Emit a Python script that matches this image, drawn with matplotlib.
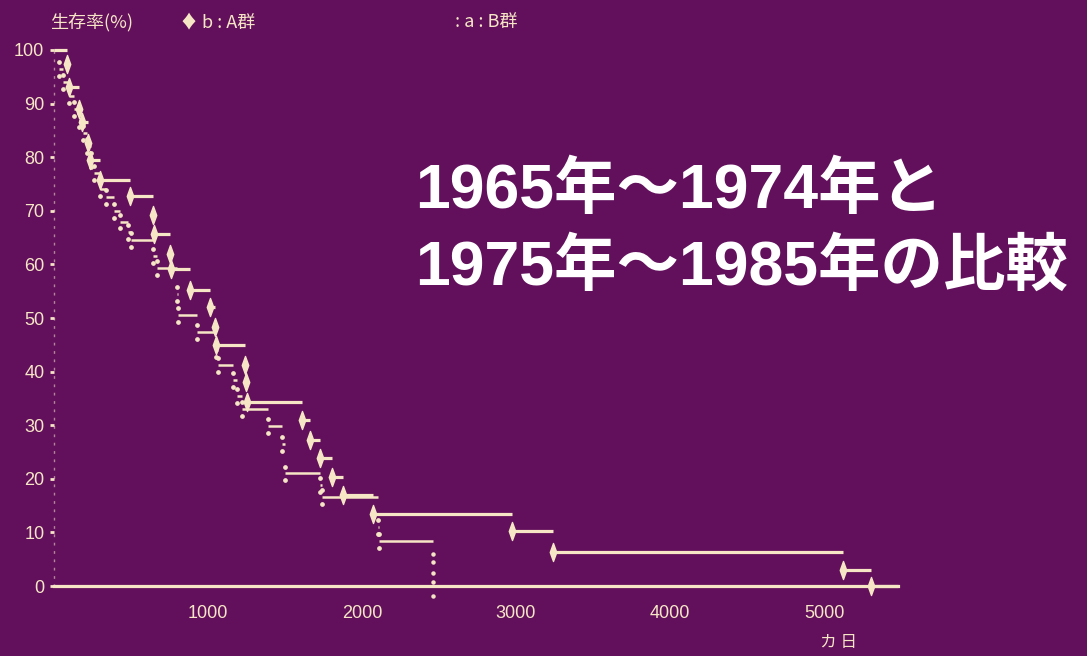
import matplotlib
matplotlib.use("Agg")
import matplotlib.pyplot as plt
from matplotlib.path import Path

BG = "#62105c"
INK = "#f6e6c6"

# A群 (b): day each step starts and survival (%) from that day on
a_days = [0, 85, 100, 160, 185, 220, 235, 300, 494, 643, 650, 753, 760, 883,
          1013, 1045, 1050, 1240, 1245, 1250, 1610, 1662, 1727, 1805, 1877,
          2071, 2974, 3240, 5123, 5305]
a_surv = [100, 97.4, 93, 89, 86.6, 82.6, 79.5, 75.7, 72.8, 69.2, 65.7, 62,
          59.2, 55.2, 52, 48.3, 45, 41.2, 38, 34.3, 31, 27.2, 23.9, 20.3, 17,
          13.4, 10.2, 6.4, 3, 0]
a_end = 5480

# B群 (a)
b_days = [0, 30, 60, 95, 130, 160, 190, 215, 240, 260, 300, 340, 390, 430,
          480, 500, 640, 670, 800, 805, 930, 1050, 1065, 1165, 1190, 1220,
          1390, 1480, 1500, 1730, 1740, 2104, 2110]
b_surv = [100, 96.5, 94, 91.5, 89, 87, 84.5, 82, 79.5, 77, 74, 72.5, 70, 68,
          66, 64.5, 61.5, 59.3, 54.5, 50.5, 47.4, 44, 41.2, 38.5, 35.5, 33,
          29.8, 26.5, 21, 18.8, 16.6, 11, 8.4]
b_end = 2460

y_ticks = [0, 10, 20, 30, 40, 50, 60, 70, 80, 90, 100]
x_ticks = [1000, 2000, 3000, 4000, 5000]

num_font = ["Liberation Sans", "DejaVu Sans"]
jp_font = ["Noto Sans CJK JP", "DejaVu Sans"]

# tall thin diamond for the A-group events
diamond = Path([(0, 1), (0.36, 0), (0, -1), (-0.36, 0), (0, 1)],
               [Path.MOVETO, Path.LINETO, Path.LINETO, Path.LINETO, Path.CLOSEPOLY])

fig = plt.figure(figsize=(10.87, 6.56), dpi=100, facecolor=BG)
ax = fig.add_axes([0.00718, 0.0576, 0.8359, 0.9316])
ax.set_facecolor(BG)
ax.set_xlim(-300, 5600)
ax.set_ylim(-6, 108)

# B group: horizontal steps with ":" marks at each step start
b_ends = b_days[1:] + [b_end]
ax.hlines(b_surv, b_days, b_ends, color=INK, lw=1.8)
ax.plot(b_days[1:], [s + 1.3 for s in b_surv[1:]], ls="none", marker="o",
        ms=2.4, color=INK)
ax.plot(b_days[1:], [s - 1.3 for s in b_surv[1:]], ls="none", marker="o",
        ms=2.4, color=INK)
ax.plot([b_end] * 5, [6.0, 4.5, 2.5, 0.8, -1.8], ls="none", marker="o",
        ms=2.2, color=INK)

# A group: horizontal steps with diamonds
a_ends = a_days[1:] + [a_end]
ax.hlines(a_surv, a_days, a_ends, color=INK, lw=2.3)
ax.plot(a_days[1:], a_surv[1:], ls="none", marker=diamond, ms=13,
        color=INK, mec=INK)

for side in ["top", "right"]:
    ax.spines[side].set_visible(False)
ax.spines["left"].set_position(("data", 0))
ax.spines["left"].set_bounds(0, 100)
ax.spines["left"].set_color(INK)
ax.spines["left"].set_alpha(0.55)
ax.spines["left"].set_linewidth(1.0)
ax.spines["left"].set_linestyle((0, (1, 5)))
ax.spines["bottom"].set_position(("data", 0))
ax.spines["bottom"].set_bounds(0, a_end)
ax.spines["bottom"].set_color(INK)
ax.spines["bottom"].set_linewidth(2.3)

ax.set_yticks(y_ticks)
ax.set_yticklabels([str(v) for v in y_ticks], family=num_font, fontsize=13,
                   color=INK)
ax.tick_params(axis="y", colors=INK, length=3, width=2, pad=4)
ax.set_xticks(x_ticks)
ax.set_xticklabels([str(v) for v in x_ticks], family=num_font, fontsize=13,
                   color=INK)
ax.tick_params(axis="x", length=0, pad=14, colors=INK)

fig.text(50 / 1087, 1 - 22 / 656, "生存率(%)", family=jp_font, fontsize=13,
         color=INK, va="center")
fig.text(180 / 1087, 1 - 22 / 656, "♦ b : A群", family=jp_font, fontsize=13,
         color=INK, va="center")
fig.text(455 / 1087, 1 - 22 / 656, ": a : B群", family=jp_font, fontsize=13,
         color=INK, va="center")
fig.text(838 / 1087, 1 - 643 / 656, "カ 日", family=jp_font, fontsize=12,
         color=INK, ha="center", va="center")

title_font = ["Liberation Sans", "Noto Sans CJK JP"]
fig.text(415 / 1087, 1 - 208 / 656, "1965年～1974年と", family=title_font,
         fontsize=45, fontweight="bold", color="white", va="baseline")
fig.text(415 / 1087, 1 - 285 / 656, "1975年～1985年の比較", family=title_font,
         fontsize=45, fontweight="bold", color="white", va="baseline")

fig.savefig("out.png", dpi=100, facecolor=BG)
